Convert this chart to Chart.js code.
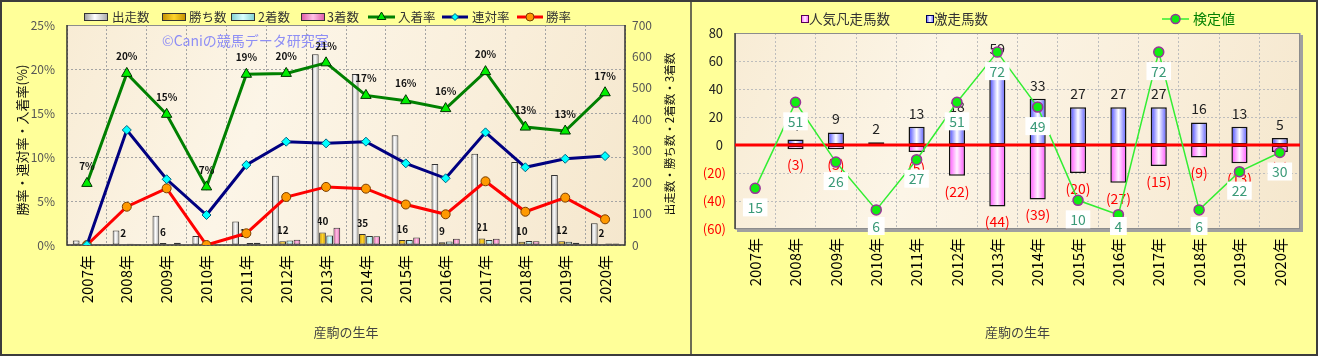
<!DOCTYPE html>
<html><head><meta charset="utf-8">
<script src="https://cdn.jsdelivr.net/npm/chart.js@4.4.1/dist/chart.umd.min.js"></script>
<style>
html,body{margin:0;padding:0;background:#FFFF99;overflow:hidden;}
#wrap{position:relative;width:1318px;height:356px;}
canvas{position:absolute;top:0;}
#c1{left:0;width:690px;height:356px;}
#c2{left:690px;width:628px;height:356px;}
</style></head>
<body><div id="wrap"><canvas id="c1" width="690" height="356"></canvas><canvas id="c2" width="628" height="356"></canvas></div>
<script>
// ---------- data ----------
const years = ['2007年','2008年','2009年','2010年','2011年','2012年','2013年','2014年','2015年','2016年','2017年','2018年','2019年','2020年'];
// left chart
const starters = [14,46,93,29,75,220,607,544,349,258,290,264,223,69];
const wins     = [0,2,6,0,1,12,40,35,16,9,21,10,12,2];
const seconds  = [0,4,1,1,6,14,30,29,16,11,16,13,10,5];
const thirds   = [1,3,7,1,7,17,55,28,24,20,20,12,7,5];
const placeRate    = [7.0,19.5,14.85,6.6,19.4,19.5,20.7,17.0,16.4,15.5,19.7,13.4,12.95,17.3];
const quinellaRate = [0,13.07,7.47,3.41,9.09,11.74,11.55,11.74,9.28,7.58,12.8,8.83,9.8,10.1];
const winRate      = [0,4.35,6.44,0,1.33,5.45,6.6,6.4,4.6,3.49,7.24,3.78,5.38,2.92];
const leftTickStep = 5, leftMax = 25, rightTickStep = 100, rightMax = 700;
// right chart
const hotRunners  = [0,4,9,2,13,18,59,33,27,27,27,16,13,5];
const flopRunners = [0,3,3,0,5,22,44,39,20,27,15,9,13,5];
const testValues  = [15,51,26,6,27,51,72,49,10,4,72,6,22,30];
const rMin = -60, rMax = 80, rStep = 20;

// ---------- helpers ----------
const FONT = '"Noto Sans CJK JP","Noto Sans",sans-serif';
Chart.defaults.font.family = FONT;
function fnt(sz, w){ return (w||'normal') + ' ' + sz + 'px ' + FONT; }

const GR_STARTERS = [[0,'#989898'],[0.45,'#FFFFFF'],[1,'#A6A6A6']];
const GR_WINS     = [[0,'#C08E00'],[0.5,'#FFD42A'],[1,'#C08E00']];
const GR_SECOND   = [[0,'#7CCFCF'],[0.5,'#DAFFFF'],[1,'#7CCFCF']];
const GR_THIRD    = [[0,'#DD55A5'],[0.5,'#FFC2E6'],[1,'#DD55A5']];
const GR_HOT      = [[0,'#4040FF'],[0.5,'#FFFFFF'],[1,'#5555FF']];
const GR_FLOP     = [[0,'#FF4CFF'],[0.5,'#FFF2FF'],[1,'#FF4CFF']];

function barGrad(stops, fallback){
  return (c) => {
    const el = c.element;
    if (!el || !isFinite(el.x) || !el.width) return fallback;
    const g = c.chart.ctx.createLinearGradient(el.x - el.width/2, 0, el.x + el.width/2, 0);
    stops.forEach(s => g.addColorStop(s[0], s[1]));
    return g;
  };
}
function plotBg(ctx, a){
  const g = ctx.createLinearGradient(a.left, a.top, a.right, a.bottom);
  g.addColorStop(0,'#F8ECD5'); g.addColorStop(0.35,'#FCF5E7'); g.addColorStop(0.7,'#F9EEDA'); g.addColorStop(1,'#F5E7CD');
  ctx.fillStyle = g; ctx.fillRect(a.left, a.top, a.right-a.left, a.bottom-a.top);
}
function rotText(ctx, txt, x, y, f, color){
  ctx.save(); ctx.translate(x,y); ctx.rotate(-Math.PI/2);
  ctx.font=f; ctx.fillStyle=color; ctx.textAlign='center'; ctx.textBaseline='middle';
  ctx.fillText(txt,0,0); ctx.restore();
}
function text(ctx, txt, x, y, f, color, align){
  ctx.save(); ctx.font=f; ctx.fillStyle=color; ctx.textAlign=align||'left'; ctx.textBaseline='middle';
  ctx.fillText(txt,x,y); ctx.restore();
}
function gradRect(ctx, x, y, w, h, stops, border, bw){
  ctx.save();
  const g = ctx.createLinearGradient(x,0,x+w,0); stops.forEach(s=>g.addColorStop(s[0],s[1]));
  ctx.fillStyle=g; ctx.fillRect(x,y,w,h);
  ctx.strokeStyle=border; ctx.lineWidth=bw||1; ctx.strokeRect(x+0.5,y+0.5,w-1,h-1);
  ctx.restore();
}
function marker(ctx, style, x, y, r, fill, stroke, bw){
  ctx.save(); ctx.fillStyle=fill; ctx.strokeStyle=stroke; ctx.lineWidth=bw;
  ctx.beginPath();
  if (style==='triangle'){ ctx.moveTo(x,y-r); ctx.lineTo(x+r*0.866,y+r*0.5); ctx.lineTo(x-r*0.866,y+r*0.5); ctx.closePath(); }
  else if (style==='diamond'){ ctx.moveTo(x,y-r); ctx.lineTo(x+r,y); ctx.lineTo(x,y+r); ctx.lineTo(x-r,y); ctx.closePath(); }
  else ctx.arc(x,y,r,0,Math.PI*2);
  ctx.fill(); ctx.stroke(); ctx.restore();
}
function lineKey(ctx, x1, x2, y, color, lw){
  ctx.save(); ctx.strokeStyle=color; ctx.lineWidth=lw; ctx.beginPath(); ctx.moveTo(x1,y); ctx.lineTo(x2,y); ctx.stroke(); ctx.restore();
}

// ---------- left chart ----------
const IDX_WINS = 1, IDX_PLACE = 4;
const leftDeco = {
  id:'leftDeco',
  beforeDraw(chart){
    const {ctx, chartArea:a, width, height} = chart;
    ctx.save();
    ctx.fillStyle='#FFFF99'; ctx.fillRect(0,0,width,height);
    plotBg(ctx,a);
    ctx.strokeStyle='#3C3C3C'; ctx.lineWidth=2;
    ctx.beginPath(); ctx.moveTo(width,1); ctx.lineTo(1,1); ctx.lineTo(1,height-1); ctx.lineTo(width,height-1); ctx.stroke();
    ctx.restore();
  },
  beforeDatasetsDraw(chart){
    const {ctx, chartArea:a} = chart;
    ctx.save();
    ctx.strokeStyle='#8C8C8C'; ctx.lineWidth=1;
    ctx.beginPath(); ctx.moveTo(a.left,a.top+0.5); ctx.lineTo(a.right,a.top+0.5); ctx.stroke();
    ctx.strokeStyle='#333'; ctx.lineWidth=1.5;
    ctx.beginPath(); ctx.moveTo(a.left,a.top); ctx.lineTo(a.left,a.bottom); ctx.lineTo(a.right,a.bottom); ctx.lineTo(a.right,a.top); ctx.stroke();
    ctx.restore();
    // watermark
    text(ctx,'©Caniの競馬データ研究室',162,41,fnt(14),'#8E8EF5','left');
    // win count labels (drawn under bars)
    const meta = chart.getDatasetMeta(IDX_WINS);
    meta.data.forEach((el,i)=>{ if(!wins[i]) return; text(ctx,String(wins[i]),el.x,el.y-11,fnt(10,'bold'),'#111','center'); });
  },
  afterDatasetsDraw(chart){
    const {ctx} = chart;
    const meta = chart.getDatasetMeta(IDX_PLACE);
    meta.data.forEach((el,i)=>{ text(ctx,Math.round(placeRate[i])+'%',el.x,el.y-17,fnt(10,'bold'),'#111','center'); });
  },
  afterDraw(chart){
    const {ctx, chartArea:a} = chart;
    rotText(ctx,'勝率・連対率・入着率(%)',22,140,fnt(13),'#111');
    rotText(ctx,'出走数・勝ち数・2着数・3着数',670,134,fnt(11.5),'#111');
    text(ctx,'産駒の生年',(a.left+a.right)/2,332,fnt(13),'#444','center');
    // legend
    const ly = 17, lf = fnt(12.5), lc = '#333';
    gradRect(ctx,84,13,24,8,GR_STARTERS,'#333',1); text(ctx,'出走数',112,ly,lf,lc);
    gradRect(ctx,162,13,24,8,GR_WINS,'#333',1);    text(ctx,'勝ち数',189,ly,lf,lc);
    gradRect(ctx,231,13,24,8,GR_SECOND,'#333',1);  text(ctx,'2着数',258,ly,lf,lc);
    gradRect(ctx,301,13,24,8,GR_THIRD,'#333',1);   text(ctx,'3着数',327,ly,lf,lc);
    lineKey(ctx,368,395,ly,'#008000',3); marker(ctx,'triangle',381.5,ly,5,'#00EE00','#003300',1); text(ctx,'入着率',398,ly,lf,lc);
    lineKey(ctx,442,468,ly,'#000080',3); marker(ctx,'diamond',455,ly,3.5,'#00FFFF','#006080',1); text(ctx,'連対率',472,ly,lf,lc);
    lineKey(ctx,517,543,ly,'#FF0000',3); marker(ctx,'circle',530,ly,4,'#FF9900','#7A3D00',1); text(ctx,'勝率',546,ly,lf,lc);
  }
};

function barDs(label, data, stops, fb){
  return {label, data, yAxisID:'y1', order:1, backgroundColor: barGrad(stops,fb), borderColor:'#333', borderWidth:1,
          borderSkipped:false, categoryPercentage:0.72, barPercentage:0.94};
}
const leftChart = new Chart(document.getElementById('c1'), {
  type:'bar',
  data:{
    labels: years,
    datasets:[
      barDs('出走数', starters, GR_STARTERS, '#EEEEEE'),
      barDs('勝ち数', wins, GR_WINS, '#F0C000'),
      barDs('2着数', seconds, GR_SECOND, '#B0F0F0'),
      barDs('3着数', thirds, GR_THIRD, '#FF99CC'),
      {type:'line', label:'入着率', data:placeRate, yAxisID:'y', order:0, borderColor:'#008000', borderWidth:3,
       pointStyle:'triangle', pointRadius:6, pointBackgroundColor:'#00EE00', pointBorderColor:'#003300', pointBorderWidth:1, tension:0},
      {type:'line', label:'連対率', data:quinellaRate, yAxisID:'y', order:0, borderColor:'#000080', borderWidth:3,
       pointStyle:'rectRot', pointRadius:4.5, pointBackgroundColor:'#00FFFF', pointBorderColor:'#006080', pointBorderWidth:1, tension:0},
      {type:'line', label:'勝率', data:winRate, yAxisID:'y', order:0, borderColor:'#FF0000', borderWidth:3,
       pointStyle:'circle', pointRadius:4.5, pointBackgroundColor:'#FF9900', pointBorderColor:'#7A3D00', pointBorderWidth:1, tension:0}
    ]
  },
  options:{
    responsive:false, animation:false, events:[], devicePixelRatio:1,
    layout:{padding:{top:25,left:0,right:0,bottom:0}},
    plugins:{legend:{display:false}, tooltip:{enabled:false}},
    scales:{
      x:{offset:true, grid:{display:true, offset:true, color:'#A4A4A4', lineWidth:1, drawTicks:false},
         border:{display:false, dash:[2,2]},
         ticks:{color:'#000', font:{size:15}, minRotation:90, maxRotation:90, padding:10, autoSkip:false},
         afterFit:s=>{s.height=111;}},
      y:{position:'left', min:0, max:leftMax,
         ticks:{stepSize:leftTickStep, callback:v=>v+'%', color:'#555', font:{size:12}, padding:12},
         grid:{color:'#A4A4A4', lineWidth:1, drawTicks:false}, border:{display:false, dash:[2,2]},
         afterFit:s=>{s.width=67;}},
      y1:{position:'right', min:0, max:rightMax,
         ticks:{stepSize:rightTickStep, color:'#555', font:{size:12}, padding:7},
         grid:{drawOnChartArea:false, drawTicks:false}, border:{display:false},
         afterFit:s=>{s.width=65;}}
    }
  },
  plugins:[leftDeco]
});
leftChart.update();

// ---------- right chart ----------
const rightDeco = {
  id:'rightDeco',
  beforeDraw(chart){
    const {ctx, chartArea:a, width, height} = chart;
    ctx.save();
    ctx.fillStyle='#FFFF99'; ctx.fillRect(0,0,width,height);
    plotBg(ctx,a);
    ctx.strokeStyle='#3C3C3C'; ctx.lineWidth=2;
    ctx.beginPath(); ctx.moveTo(0,1); ctx.lineTo(width-1,1); ctx.lineTo(width-1,height-1); ctx.lineTo(0,height-1); ctx.stroke();
    ctx.lineWidth=1.5; ctx.beginPath(); ctx.moveTo(1,0); ctx.lineTo(1,height); ctx.stroke();
    ctx.restore();
  },
  beforeDatasetsDraw(chart){
    const {ctx, chartArea:a} = chart;
    ctx.save();
    ctx.strokeStyle='#A0A0A0'; ctx.lineWidth=3;
    ctx.beginPath(); ctx.moveTo(a.right+1.5,a.top+2); ctx.lineTo(a.right+1.5,a.bottom+1.5); ctx.lineTo(a.left+2,a.bottom+1.5); ctx.stroke();
    ctx.strokeStyle='#8C8C8C'; ctx.lineWidth=1;
    ctx.strokeRect(a.left+0.5,a.top+0.5,a.right-a.left-1,a.bottom-a.top-1);
    ctx.strokeStyle='#404040'; ctx.lineWidth=1.5;
    ctx.beginPath(); ctx.moveTo(a.left,a.top); ctx.lineTo(a.left,a.bottom); ctx.stroke();
    ctx.restore();
  },
  beforeDatasetDraw(chart, args){
    if (args.index !== 0) return;
    const {ctx, chartArea:a} = chart;
    const y0 = chart.scales.y.getPixelForValue(0);
    ctx.save(); ctx.strokeStyle='#FF0000'; ctx.lineWidth=3;
    ctx.beginPath(); ctx.moveTo(a.left,y0); ctx.lineTo(a.right,y0); ctx.stroke(); ctx.restore();
    chart.getDatasetMeta(1).data.forEach((el,i)=>{ if(!hotRunners[i]) return; text(ctx,String(hotRunners[i]),el.x,el.y-13.5,fnt(14),'#222','center'); });
    chart.getDatasetMeta(2).data.forEach((el,i)=>{ if(!flopRunners[i]) return; text(ctx,'('+flopRunners[i]+')',el.x,el.y+15.5,fnt(14),'#FF0000','center'); });
  },
  afterDatasetsDraw(chart){
    const {ctx, chartArea:a} = chart;
    ctx.save(); ctx.font = fnt(14);
    chart.getDatasetMeta(0).data.forEach((el,i)=>{
      const t = String(testValues[i]);
      const w = ctx.measureText(t).width + 9, h = 18;
      const cy = Math.min(el.y + 19, a.bottom - 3);
      ctx.fillStyle='#FFFFFF'; ctx.fillRect(el.x - w/2, cy - h/2, w, h);
      ctx.fillStyle='#3A9A78'; ctx.textAlign='center'; ctx.textBaseline='middle'; ctx.fillText(t, el.x, cy+0.5);
    });
    ctx.restore();
  },
  afterDraw(chart){
    const {ctx, chartArea:a} = chart;
    text(ctx,'産駒の生年',(a.left+a.right)/2,332,fnt(13),'#444','center');
    const ly = 19, lf = fnt(13.5);
    gradRect(ctx,801-690,15,8,8,GR_FLOP,'#550055',1); text(ctx,'人気凡走馬数',809-690,ly,lf,'#333');
    gradRect(ctx,926-690,15,8,8,GR_HOT,'#000055',1);  text(ctx,'激走馬数',934-690,ly,lf,'#333');
    lineKey(ctx,1162-690,1189-690,ly,'#33EE33',1.5);
    marker(ctx,'circle',1175.5-690,ly,4.5,'#11EE11','#993399',1.5);
    text(ctx,'検定値',1193-690,ly,fnt(14),'#008000');
  }
};

const rightChart = new Chart(document.getElementById('c2'), {
  type:'bar',
  data:{
    labels: years,
    datasets:[
      {type:'line', label:'検定値', data:testValues, yAxisID:'y2', order:0, borderColor:'#33EE33', borderWidth:1.5,
       pointStyle:'circle', pointRadius:5, pointBackgroundColor:'#11EE11', pointBorderColor:'#993399', pointBorderWidth:1.5, tension:0},
      {label:'激走馬数', data:hotRunners, yAxisID:'y', order:1, stack:'s', backgroundColor:barGrad(GR_HOT,'#B0B0FF'),
       borderColor:'#111', borderWidth:1.5, borderSkipped:false, categoryPercentage:0.8, barPercentage:0.5},
      {label:'人気凡走馬数', data:flopRunners.map(v=>-v), yAxisID:'y', order:1, stack:'s', backgroundColor:barGrad(GR_FLOP,'#FFB0FF'),
       borderColor:'#111', borderWidth:1.5, borderSkipped:false, categoryPercentage:0.8, barPercentage:0.5}
    ]
  },
  options:{
    responsive:false, animation:false, events:[], devicePixelRatio:1,
    layout:{padding:{top:33,left:0,right:18,bottom:0}},
    plugins:{legend:{display:false}, tooltip:{enabled:false}},
    scales:{
      x:{stacked:true, offset:true, grid:{display:true, offset:true, color:'#BDBDBD', lineWidth:1, drawTicks:false},
         border:{display:false, dash:[2,2]},
         ticks:{color:'#000', font:{size:15}, minRotation:90, maxRotation:90, padding:9, autoSkip:false},
         afterFit:s=>{s.height=127;}},
      y:{stacked:true, min:rMin, max:rMax,
         ticks:{stepSize:rStep, callback:v=> v<0 ? '('+(-v)+')' : v+' ', color:c=> c.tick.value<0 ? '#FF0000' : '#222', font:{size:13}, padding:9},
         grid:{color:'#BDBDBD', lineWidth:1, drawTicks:false}, border:{display:false, dash:[2,2]},
         afterFit:s=>{s.width=45;}},
      y2:{display:false, min:-2, max:80}
    }
  },
  plugins:[rightDeco]
});
rightChart.update();
</script></body></html>
